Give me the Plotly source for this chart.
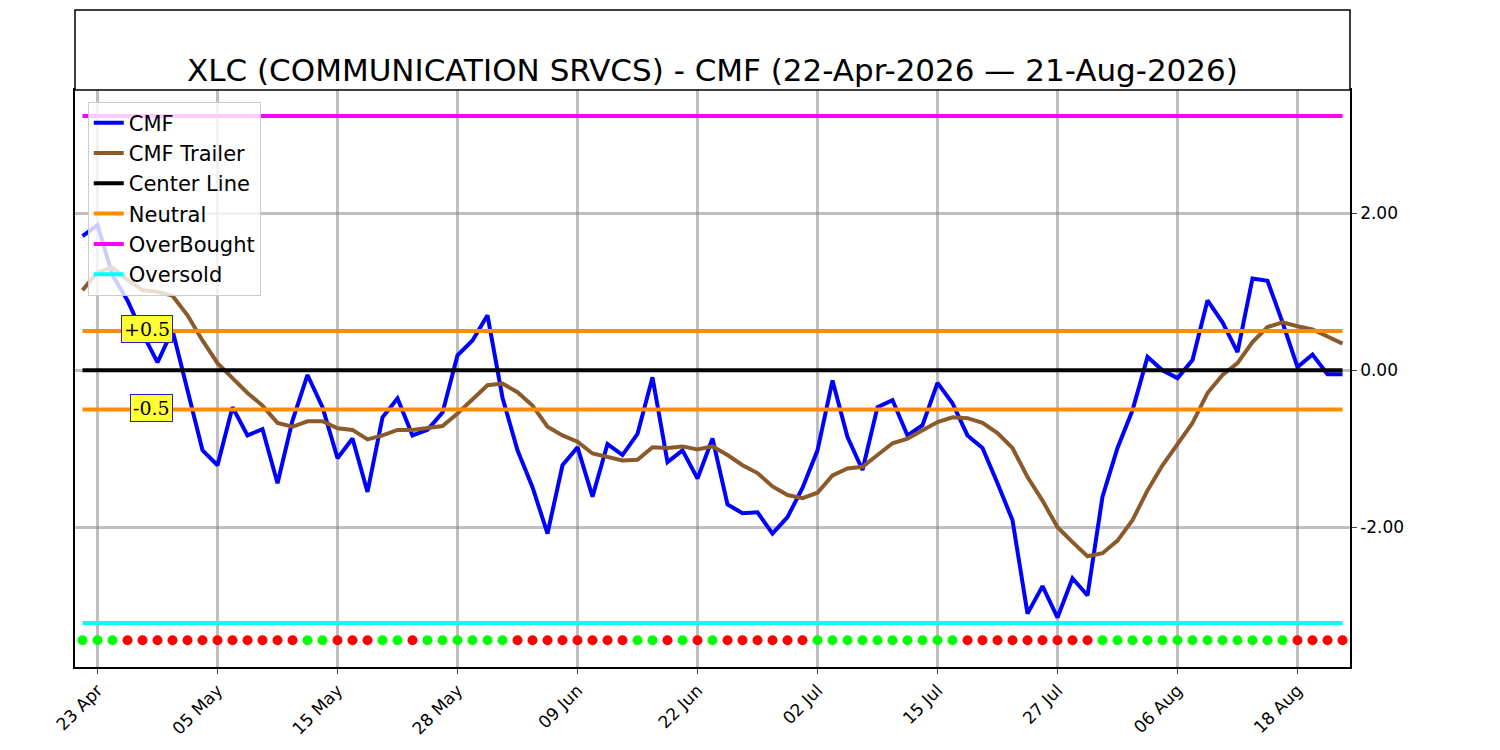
import plotly.graph_objects as go

# CMF data, one value per trading day (22-Apr-2026 .. 21-Aug-2026)
cmf = [1.71, 1.85, 1.21, 0.89, 0.47, 0.10, 0.51, -0.25, -1.02, -1.21,
       -0.47, -0.83, -0.75, -1.44, -0.64, -0.06, -0.47, -1.12, -0.87, -1.55,
       -0.60, -0.36, -0.83, -0.76, -0.54, 0.19, 0.38, 0.70, -0.35, -1.02,
       -1.49, -2.08, -1.21, -0.98, -1.61, -0.94, -1.08, -0.81, -0.09, -1.17,
       -1.02, -1.38, -0.87, -1.71, -1.82, -1.81, -2.08, -1.87, -1.50, -1.02,
       -0.13, -0.85, -1.27, -0.47, -0.38, -0.83, -0.70, -0.16, -0.42, -0.83,
       -0.99, -1.44, -1.91, -3.10, -2.75, -3.15, -2.65, -2.87, -1.61, -0.99,
       -0.51, 0.17, 0.00, -0.10, 0.13, 0.89, 0.61, 0.23, 1.17, 1.14,
       0.61, 0.04, 0.20, -0.05, -0.05]
trailer = [1.02, 1.25, 1.31, 1.15, 1.02, 1.00, 0.95, 0.70, 0.38, 0.09,
           -0.10, -0.29, -0.45, -0.67, -0.72, -0.65, -0.65, -0.74, -0.76, -0.88,
           -0.83, -0.76, -0.76, -0.74, -0.71, -0.55, -0.37, -0.19, -0.17, -0.28,
           -0.45, -0.72, -0.83, -0.91, -1.06, -1.10, -1.15, -1.14, -0.98, -0.99,
           -0.97, -1.01, -0.97, -1.08, -1.21, -1.31, -1.48, -1.59, -1.63, -1.56,
           -1.34, -1.25, -1.23, -1.08, -0.93, -0.87, -0.76, -0.66, -0.60, -0.61,
           -0.67, -0.80, -0.99, -1.36, -1.66, -2.00, -2.19, -2.37, -2.33, -2.17,
           -1.91, -1.53, -1.21, -0.93, -0.67, -0.29, -0.06, 0.09, 0.36, 0.55,
           0.61, 0.56, 0.52, 0.43, 0.34]
# signal dots: 1 = green, 0 = red
signal = ([1]*3 + [0]*12 + [1]*2 + [0]*3 + [1]*2 + [0] + [1]*6 + [0]*8 + [1]*2 + [0] + [1] + [0] + [1]
          + [0]*6 + [1]*10 + [0]*9 + [1]*13 + [0]*4)
tick_idx = [1, 9, 17, 25, 33, 41, 49, 57, 65, 73, 81]
tick_labels = ["23 Apr", "05 May", "15 May", "28 May", "09 Jun", "22 Jun",
               "02 Jul", "15 Jul", "27 Jul", "06 Aug", "18 Aug"]
overbought, oversold, neutral_hi, neutral_lo = 3.24, -3.22, 0.5, -0.5
dot_level = -3.44

x = list(range(len(cmf)))
n = len(cmf)

fig = go.Figure()
fig.add_trace(go.Scatter(x=x, y=cmf, mode="lines", name="CMF",
                         line=dict(color="#0000ff", width=4)))
fig.add_trace(go.Scatter(x=x, y=trailer, mode="lines", name="CMF Trailer",
                         line=dict(color="#8b5a2b", width=4)))
fig.add_trace(go.Scatter(x=[0, n - 1], y=[0, 0], mode="lines", name="Center Line",
                         line=dict(color="black", width=4)))
fig.add_trace(go.Scatter(x=[0, n - 1], y=[neutral_hi, neutral_hi], mode="lines", name="Neutral",
                         line=dict(color="#ff8c00", width=4)))
fig.add_trace(go.Scatter(x=[0, n - 1], y=[neutral_lo, neutral_lo], mode="lines", showlegend=False,
                         line=dict(color="#ff8c00", width=4)))
fig.add_trace(go.Scatter(x=[0, n - 1], y=[overbought, overbought], mode="lines", name="OverBought",
                         line=dict(color="#ff00ff", width=4)))
fig.add_trace(go.Scatter(x=[0, n - 1], y=[oversold, oversold], mode="lines", name="Oversold",
                         line=dict(color="#00ffff", width=4)))
fig.add_trace(go.Scatter(x=x, y=[dot_level] * n, mode="markers", showlegend=False,
                         marker=dict(size=10, color=["#00ff00" if s else "#ff0000" for s in signal])))

for txt, yv, xv in [("+0.5", 0.53, 4.3), ("-0.5", -0.48, 4.6)]:
    fig.add_annotation(x=xv, y=yv, text=txt, showarrow=False,
                       font=dict(family="DejaVu Serif", size=19, color="black"),
                       bgcolor="#ffff33", bordercolor="#2222cc", borderwidth=1, borderpad=2)

# title box
fig.add_shape(type="rect", xref="paper", yref="paper", x0=0, x1=1, y0=1, y1=1 + 80 / 577,
              line=dict(color="black", width=1.5), fillcolor="white")
fig.add_annotation(xref="paper", yref="paper", x=0.5, y=1 + 40 / 577, showarrow=False,
                   text="XLC (COMMUNICATION SRVCS) - CMF (22-Apr-2026 \u2014 21-Aug-2026)",
                   font=dict(family="DejaVu Sans", size=31, color="black"))

grid = "rgba(128,128,128,0.5)"
fig.update_layout(
    width=1500, height=750, margin=dict(l=67, r=158, t=82, b=91),
    plot_bgcolor="white", paper_bgcolor="white",
    font=dict(family="DejaVu Sans", size=17, color="black"),
    showlegend=True,
    legend=dict(x=0.01, y=0.98, xanchor="left", yanchor="top",
                bgcolor="rgba(255,255,255,0.8)", bordercolor="#cccccc", borderwidth=1,
                font=dict(size=21), itemwidth=30, tracegroupgap=0),
    xaxis=dict(range=[-0.5, n - 0.5], tickmode="array", tickvals=tick_idx, ticktext=tick_labels,
               tickangle=-45, showgrid=True, gridcolor=grid, gridwidth=3,
               showline=True, linecolor="black", linewidth=1.5, mirror=True,
               ticks="outside", ticklen=5, zeroline=False, tickfont=dict(size=17)),
    yaxis=dict(range=[-3.78, 3.57], side="right", tickvals=[-2, 0, 2],
               ticktext=["-2.00", "0.00", "2.00"], showgrid=True, gridcolor=grid, gridwidth=3,
               showline=True, linecolor="black", linewidth=1.5, mirror=True,
               ticks="outside", ticklen=5, zeroline=False, tickfont=dict(size=17)),
)

fig.write_html("out.html")
